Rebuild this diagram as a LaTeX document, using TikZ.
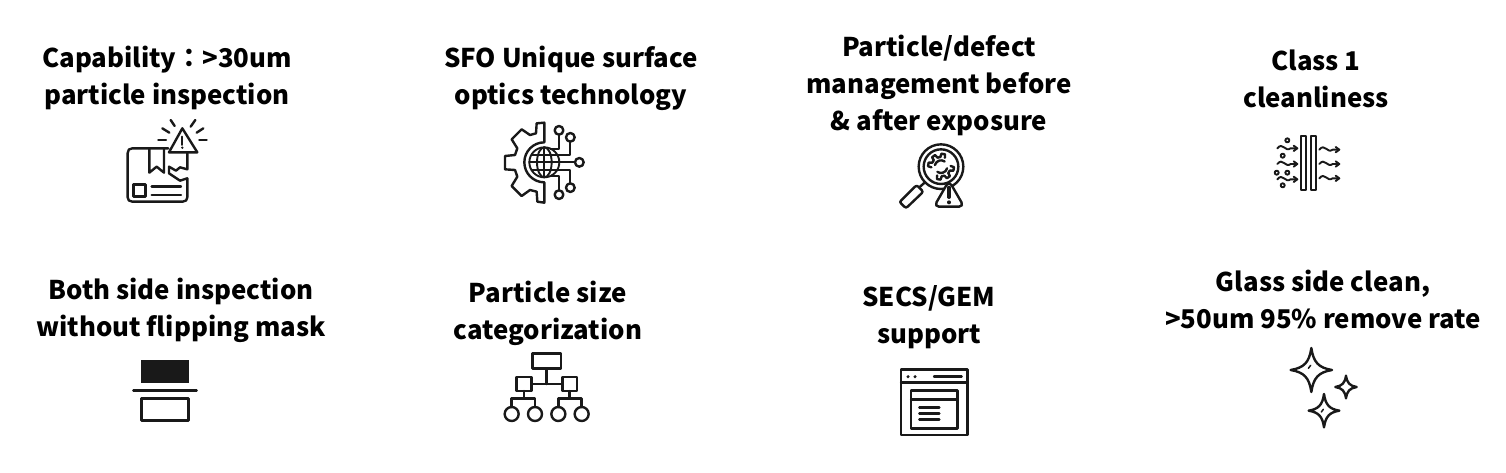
\documentclass[tikz,border=0pt]{standalone}
\usepackage{fontspec}
\setmainfont{Noto Sans CJK TC}
\usetikzlibrary{positioning}
\tikzstyle{caption} = [align=center, font=\fontsize{25.8}{37}\selectfont\bfseries, inner sep=0pt, text=black]
\tikzstyle{icon} = [x=0.3333pt, y=-0.3333pt, line width=2.4pt, line join=round, line cap=round, black!90]
\tikzstyle{thinline} = [line width=1.9pt]
\tikzset{
  wavy/.pic={
    \draw[thinline] (0,0) .. controls (8,-10) and (14,-8) .. (20,-3)
          .. controls (26,2) and (32,6) .. (40,0) -- (58,0);
    \draw[thinline] (49,-8) -- (60,0) -- (49,8);
  }
}
\begin{document}
\begin{tikzpicture}[x=1pt, y=-1pt]
\useasboundingbox (0,0) rectangle (1506,472);
% captions
\node (capability) [caption] at (167,78) {Capability：>30um\\particle inspection};
\node (surface) [caption] at (571,78) {SFO Unique surface\\optics technology};
\node (defect) [caption] at (939,85) {Particle/defect\\management before\\\& after exposure};
\node (clean) [caption] at (1316,79) {Class 1\\cleanliness};
\node (bothside) [caption] at (181,310) {Both side inspection\\without flipping mask};
\node (sizecat) [caption] at (548,313) {Particle size\\categorization};
\node (secs) [caption] at (929,317) {SECS/GEM\\support};
\node (glass) [caption] at (1323,299) {Glass side clean,\\>50um 95\% remove rate};
% damaged box
\begin{scope}[shift={(100,110)}, icon]
  \draw (205,115) -- (97,115) .. controls (88,115) and (83,120) .. (83,129) -- (83,262)
        .. controls (83,270) and (88,275) .. (97,275) -- (248,275)
        .. controls (257,275) and (262,270) .. (262,262) -- (262,205);
  \draw (148,115) -- (148,188) -- (170,170) -- (192,188) -- (192,115);
  \draw (262,130) -- (262,178) -- (240,172) -- (228,182) -- (207,170) -- (207,190) -- (240,212) -- (262,205);
  \draw (101,224) rectangle (137,260);
  \draw (155,229) -- (243,229);
  \draw (155,255) -- (243,255);
  \draw[fill=white] (247,55) -- (292,127) -- (207,127) -- cycle;
  \draw[thinline] (247,80) -- (247,105);
  \fill (247,113) circle (4);
  \draw (175,90) -- (198,90);
  \draw (187,55) -- (208,68);
  \draw (212,30) -- (224,48);
  \draw (286,30) -- (272,50);
  \draw (310,55) -- (290,68);
  \draw (298,90) -- (320,90);
\end{scope}
% gear and globe
\begin{scope}[shift={(480,110)}, icon]
  \draw (193,38) -- (170,40) -- (168,70) -- (150,75) -- (125,58) -- (95,88) -- (112,115) -- (105,135)
        -- (75,138) -- (75,178) -- (105,180) -- (112,200) -- (95,228) -- (125,258) -- (150,240)
        -- (170,245) -- (172,275) -- (193,278) -- (193,217) arc (90:270:60) -- cycle;
  \draw[thinline] (193,157) circle (45);
  \draw[thinline] (193,157) ellipse (22 and 45);
  \draw[thinline] (193,112) -- (193,202);
  \draw[thinline] (148,157) -- (238,157);
  \draw[thinline] (155,135) -- (231,135);
  \draw[thinline] (155,179) -- (231,179);
  \draw (237,61) circle (13);
  \draw (271,82) circle (13);
  \draw (298,157) circle (13);
  \draw (271,233) circle (13);
  \draw (237,254) circle (13);
  \draw[thinline] (237,74) -- (237,117) -- (212,117);
  \draw[thinline] (271,95) -- (271,136) -- (230,136);
  \draw[thinline] (285,157) -- (238,157);
  \draw[thinline] (271,220) -- (271,179) -- (230,179);
  \draw[thinline] (237,241) -- (237,198) -- (212,198);
\end{scope}
% magnifier
\begin{scope}[shift={(880,130)}, icon]
  \draw (183,110) circle (67);
  \draw (183,110) circle (52);
  \draw (136,156) -- (118,172);
  \draw (63,212) -- (105,170) .. controls (108,167) and (112,167) .. (115,170) -- (125,180)
        .. controls (128,183) and (128,187) .. (125,190) -- (83,230)
        .. controls (80,233) and (76,233) .. (73,230) -- (63,220) .. controls (60,217) and (60,215) .. (63,212) -- cycle;
  \foreach \ta in {10,55,100,190,235,280}
    \draw[shift={(183,110)}] (\ta-14:29) -- (\ta-8:39) -- (\ta+8:39) -- (\ta+14:29);
  \foreach \ta in {10,55,190,235}
    \draw[shift={(183,110)}] (\ta+14:29) -- (\ta+31:29);
  \foreach \ta in {15,195}
    \draw[shift={(183,110)}] (\ta:19) arc (\ta:\ta+110:19);
  \draw[fill=white, rounded corners=5pt] (207,152) -- (252,230) -- (162,230) -- cycle;
  \draw[line width=3.2pt] (207,172) -- (207,202);
  \fill (207,217) circle (6);
\end{scope}
% filter
\begin{scope}[shift={(1260,125)}, icon, thinline]
  \draw (123,32) rectangle (139,196);
  \draw (152,32) rectangle (167,196);
  \foreach \px/\py in {82/46, 68/92, 50/143, 82/143, 68/181}
    \draw (\px,\py) circle (6);
  \foreach \wy in {70,117,163}
    \pic at (52,\wy) {wavy};
  \foreach \wy in {74,117,160}
    \pic at (178,\wy) {wavy};
\end{scope}
% both sides
\begin{scope}[shift={(120,350)}, icon]
  \fill (62,30) rectangle (208,100);
  \draw (40,121) -- (230,121);
  \draw (65,146) rectangle (205,212);
\end{scope}
% tree
\begin{scope}[shift={(480,345)}, icon]
  \draw (158,25) rectangle (243,70);
  \draw (200,70) -- (200,117);
  \draw (155,117) -- (247,117);
  \draw (110,96) rectangle (155,138);
  \draw (247,96) rectangle (291,138);
  \draw (132,138) -- (132,160);
  \draw (268,138) -- (268,160);
  \draw (95,186) -- (95,160) -- (165,160) -- (165,186);
  \draw (235,186) -- (235,160) -- (305,160) -- (305,186);
  \foreach \cx in {95,165,235,305}
    \draw (\cx,207) circle (21);
\end{scope}
% window
\begin{scope}[shift={(880,360)}, icon]
  \draw (63,28) rectangle (262,225);
  \draw (63,68) -- (262,68);
  \fill (84,50) circle (5);
  \fill (105,50) circle (5);
  \draw (162,50) -- (245,50);
  \draw (93,92) rectangle (232,205);
  \draw (93,118) -- (232,118);
  \foreach \ly in {143,160,178}
    \draw (118,\ly) -- (178,\ly);
\end{scope}
% sparkles
\begin{scope}[shift={(1270,340)}, icon]
  \foreach \cx/\cy/\rx/\ry in {124/90/62/66, 228/141/32/34, 162/212/46/50}
    \draw ({\cx},{\cy-\ry}) .. controls ({\cx+0.1*\rx},{\cy-0.35*\ry}) and ({\cx+0.35*\rx},{\cy-0.1*\ry}) .. ({\cx+\rx},{\cy})
          .. controls ({\cx+0.35*\rx},{\cy+0.1*\ry}) and ({\cx+0.1*\rx},{\cy+0.35*\ry}) .. ({\cx},{\cy+\ry})
          .. controls ({\cx-0.1*\rx},{\cy+0.35*\ry}) and ({\cx-0.35*\rx},{\cy+0.1*\ry}) .. ({\cx-\rx},{\cy})
          .. controls ({\cx-0.35*\rx},{\cy-0.1*\ry}) and ({\cx-0.1*\rx},{\cy-0.35*\ry}) .. ({\cx},{\cy-\ry}) -- cycle;
  \draw[line width=1.5pt] (115,85) -- (122,76);
  \draw[line width=1.5pt] (154,216) -- (160,208);
\end{scope}
\end{tikzpicture}
\end{document}
